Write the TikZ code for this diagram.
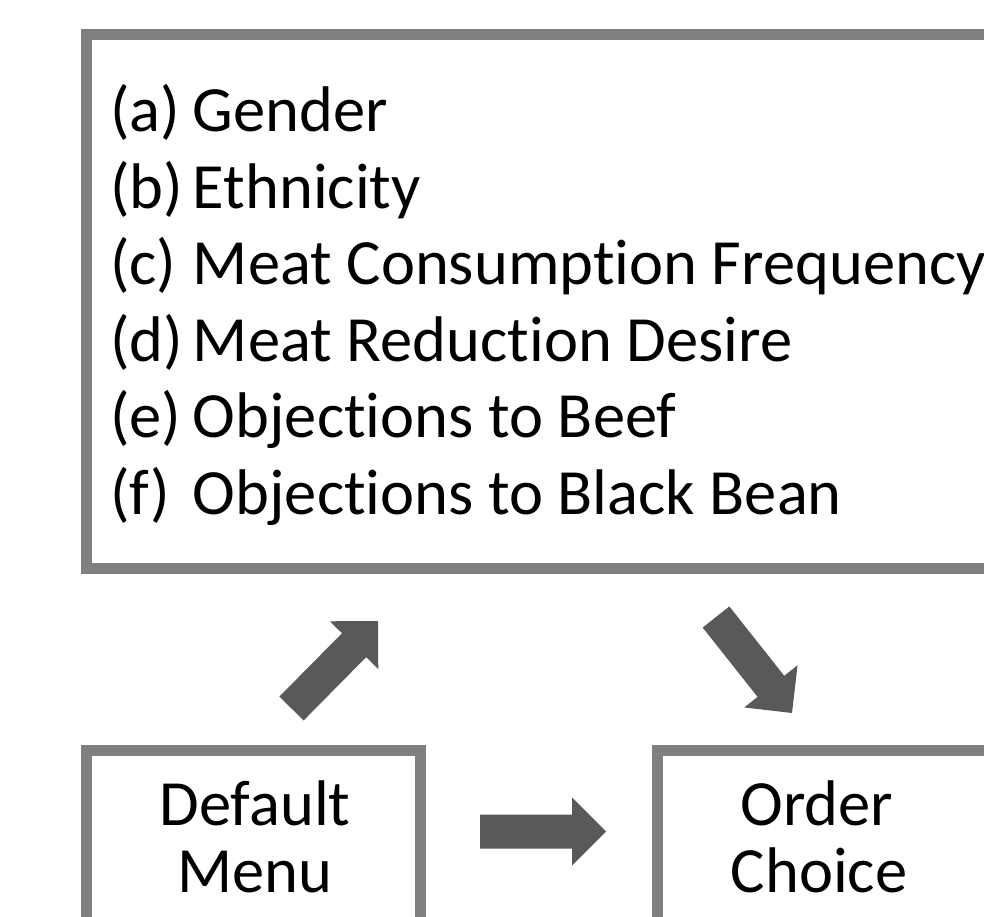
\documentclass[tikz,border=0pt]{standalone}
\usepackage{fontspec}
\setmainfont[Ligatures=NoCommon]{Carlito}
\usetikzlibrary{calc}
\definecolor{boxgray}{RGB}{128,128,128}
\definecolor{arrowgray}{RGB}{89,89,89}
\newcommand{\lab}[1]{\makebox[83pt][l]{#1}}
\newcommand{\blockarrow}[2]{%
  \coordinate (#1h) at ($(#2)!34pt!(#1)$);
  \fill[arrowgray]
    ($(#1)!17pt!90:(#2)$) -- ($(#1h)!17pt!90:(#2)$) -- ($(#1h)!34pt!90:(#2)$)
    -- (#2) --
    ($(#1h)!34pt!-90:(#2)$) -- ($(#1h)!17pt!-90:(#2)$) -- ($(#1)!17pt!-90:(#2)$) -- cycle;
}
\tikzset{
  boxstyle/.style={draw=boxgray, line width=11pt, inner sep=0pt, outer sep=0pt, fill=none},
  txt/.style={inner sep=0pt, outer sep=0pt, font=\fontsize{64.5pt}{76.5pt}\selectfont, text=black},
}
\begin{document}
\begin{tikzpicture}[x=1pt,y=-1pt]
\useasboundingbox (0,0) rectangle (984,917);
\clip (0,0) rectangle (984,917);
\fill[white] (0,0) rectangle (984,917);
% boxes
\node[boxstyle, minimum width=923.5pt, minimum height=534pt] (factors) at (548.25,301.5) {};
\node[boxstyle, minimum width=333.5pt, minimum height=210pt] (menu) at (253.25,855) {};
\node[boxstyle, minimum width=352.5pt, minimum height=210pt] (order) at (833.75,855.25) {};
% list
\node[txt, anchor=base west] (ia) at (110,131.7) {\lab{(a)}Gender};
\node[txt, anchor=base west] (ib) at (110,208.2) {\lab{(b)}Ethnicity};
\node[txt, anchor=base west] (ic) at (110,284.7) {\lab{(c)}Meat Consumption Frequency};
\node[txt, anchor=base west] (id) at (110,361.2) {\lab{(d)}Meat Reduction Desire};
\node[txt, anchor=base west] (ie) at (110,437.7) {\lab{(e)}Objections to Beef};
\node[txt, anchor=base west] (if) at (110,514.2) {\lab{(f)}Objections to Black Bean};
% bottom labels
\node[txt, anchor=base] (m1) at (255,825) {Default};
\node[txt, anchor=base] (m2) at (255,892) {Menu};
\node[txt, anchor=base] (o1) at (817,825) {Order};
\node[txt, anchor=base] (o2) at (819,892) {Choice};
% arrows
\coordinate (upT) at (291.5,708.5);
\coordinate (upH) at (378,621);
\coordinate (dnT) at (716,617);
\coordinate (dnH) at (792,713);
\coordinate (rtT) at (480,831.5);
\coordinate (rtH) at (606,831.5);
\blockarrow{upT}{upH}
\blockarrow{dnT}{dnH}
\blockarrow{rtT}{rtH}
\end{tikzpicture}
\end{document}
